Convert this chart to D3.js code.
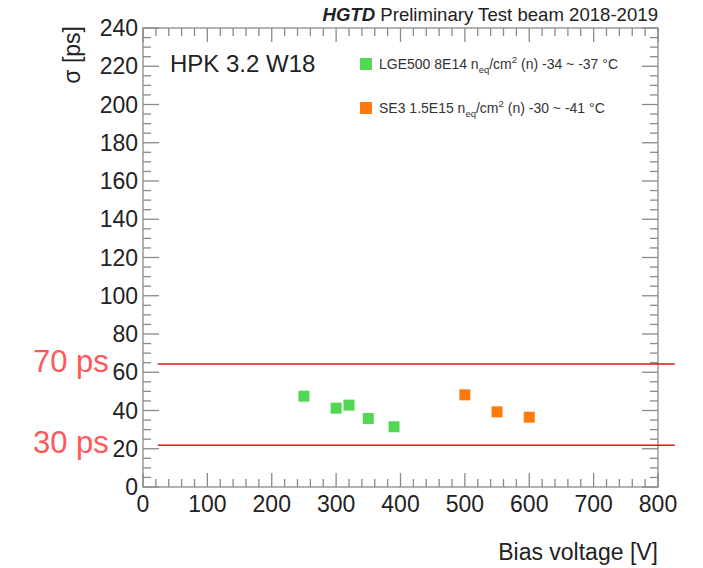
<!DOCTYPE html>
<html>
<head>
<meta charset="utf-8">
<script src="https://cdn.jsdelivr.net/npm/d3@7"></script>
<style>
  body { margin: 0; background: #fff; }
  svg { font-family: "Liberation Sans", Arial, sans-serif; }
</style>
</head>
<body>
<svg width="703" height="568"></svg>
<script>
// data
var greenV = [250, 300, 320, 350, 390];
var greenS = [47.5, 41.2, 42.8, 35.8, 31.5];
var orangeV = [500, 550, 600];
var orangeS = [48.2, 39.3, 36.5];
var refLines = [64.3, 21.8];        // red reference lines, sigma value
var refLabels = ["70 ps", "30 ps"];
var refRange = [23, 826];           // x extent of red lines, in volts
var legendText = [
  ["LGE500 8E14 n", "eq", "/cm", "2", " (n) -34 ~ -37 °C"],
  ["SE3 1.5E15 n", "eq", "/cm", "2", " (n) -30 ~ -41 °C"]
];
var legendColors = ["#52d752", "#ff7a0a"];

var svg = d3.select("svg"),
    pLeft = 143, pRight = 658, pTop = 28, pBottom = 487;

var x = d3.scaleLinear().domain([0, 800]).range([pLeft, pRight]);
var y = d3.scaleLinear().domain([0, 240]).range([pBottom, pTop]);

var axisCol = "#8a8a8a";

// frame
svg.append("rect")
    .attr("x", pLeft).attr("y", pTop)
    .attr("width", pRight - pLeft).attr("height", pBottom - pTop)
    .attr("fill", "none").attr("stroke", axisCol).attr("stroke-width", 1.3);

// ticks (ROOT style: inside, on all four sides)
var g = svg.append("g").attr("stroke", axisCol).attr("stroke-width", 1.3);
d3.range(0, 801, 20).forEach(function(v) {
  var len = v % 100 === 0 ? 14 : 8;
  g.append("line").attr("x1", x(v)).attr("x2", x(v)).attr("y1", pBottom).attr("y2", pBottom - len);
  g.append("line").attr("x1", x(v)).attr("x2", x(v)).attr("y1", pTop).attr("y2", pTop + len);
});
d3.range(0, 241, 5).forEach(function(v) {
  var len = v % 20 === 0 ? 16 : 8;
  g.append("line").attr("y1", y(v)).attr("y2", y(v)).attr("x1", pLeft).attr("x2", pLeft + len);
  g.append("line").attr("y1", y(v)).attr("y2", y(v)).attr("x1", pRight).attr("x2", pRight - len);
});

// tick labels
svg.append("g").selectAll("text")
    .data(d3.range(0, 801, 100))
    .join("text")
    .attr("x", d => x(d))
    .attr("y", 512)
    .attr("text-anchor", "middle")
    .attr("font-size", 23)
    .attr("fill", "#222")
    .text(d => d);

svg.append("g").selectAll("text")
    .data(d3.range(0, 241, 20))
    .join("text")
    .attr("x", pLeft - 5)
    .attr("y", d => y(d) + 8)
    .attr("text-anchor", "end")
    .attr("font-size", 23)
    .attr("fill", "#222")
    .text(d => d);

// axis titles
svg.append("text")
    .attr("transform", "translate(80,26) rotate(-90)")
    .attr("text-anchor", "end")
    .attr("font-size", 23)
    .attr("fill", "#222")
    .text("σ [ps]");

svg.append("text")
    .attr("x", pRight).attr("y", 560)
    .attr("text-anchor", "end")
    .attr("font-size", 23)
    .attr("fill", "#222")
    .text("Bias voltage [V]");

// header
var hdr = svg.append("text")
    .attr("x", pRight).attr("y", 21)
    .attr("text-anchor", "end")
    .attr("font-size", 18.6)
    .attr("fill", "#222");
hdr.append("tspan").attr("font-weight", "bold").attr("font-style", "italic").text("HGTD");
hdr.append("tspan").text(" Preliminary Test beam 2018-2019");

svg.append("text")
    .attr("x", 170).attr("y", 72)
    .attr("font-size", 24)
    .attr("fill", "#222")
    .text("HPK 3.2 W18");

// legend
legendText.forEach(function(t, i) {
  var cy = 64 + i * 44;
  svg.append("rect")
      .attr("x", 360).attr("y", cy - 6)
      .attr("width", 12).attr("height", 12)
      .attr("fill", legendColors[i]);
  var tx = svg.append("text")
      .attr("x", 379).attr("y", cy + 5)
      .attr("font-size", 14)
      .attr("fill", "#333");
  tx.append("tspan").text(t[0]);
  tx.append("tspan").attr("font-size", 9.5).attr("dy", 4).text(t[1]);
  tx.append("tspan").attr("dy", -4).text(t[2]);
  tx.append("tspan").attr("font-size", 9.5).attr("dy", -6).text(t[3]);
  tx.append("tspan").attr("dy", 6).text(t[4]);
});

// red reference lines
svg.append("g").selectAll("line")
    .data(refLines)
    .join("line")
    .attr("x1", x(refRange[0])).attr("x2", x(refRange[1]))
    .attr("y1", d => y(d)).attr("y2", d => y(d))
    .attr("stroke", "#dc1414").attr("stroke-width", 1.6);

svg.append("g").selectAll("text")
    .data(refLines)
    .join("text")
    .attr("x", 33)
    .attr("y", d => y(d) + 8)
    .attr("font-size", 31)
    .attr("fill", "#ff5858")
    .text((d, i) => refLabels[i]);

// markers
var ms = 11;
svg.append("g").selectAll("rect")
    .data(greenV.map((v, i) => [v, greenS[i]]))
    .join("rect")
    .attr("x", d => x(d[0]) - ms / 2).attr("y", d => y(d[1]) - ms / 2)
    .attr("width", ms).attr("height", ms)
    .attr("fill", legendColors[0]);

svg.append("g").selectAll("rect")
    .data(orangeV.map((v, i) => [v, orangeS[i]]))
    .join("rect")
    .attr("x", d => x(d[0]) - ms / 2).attr("y", d => y(d[1]) - ms / 2)
    .attr("width", ms).attr("height", ms)
    .attr("fill", legendColors[1]);
</script>
</body>
</html>
